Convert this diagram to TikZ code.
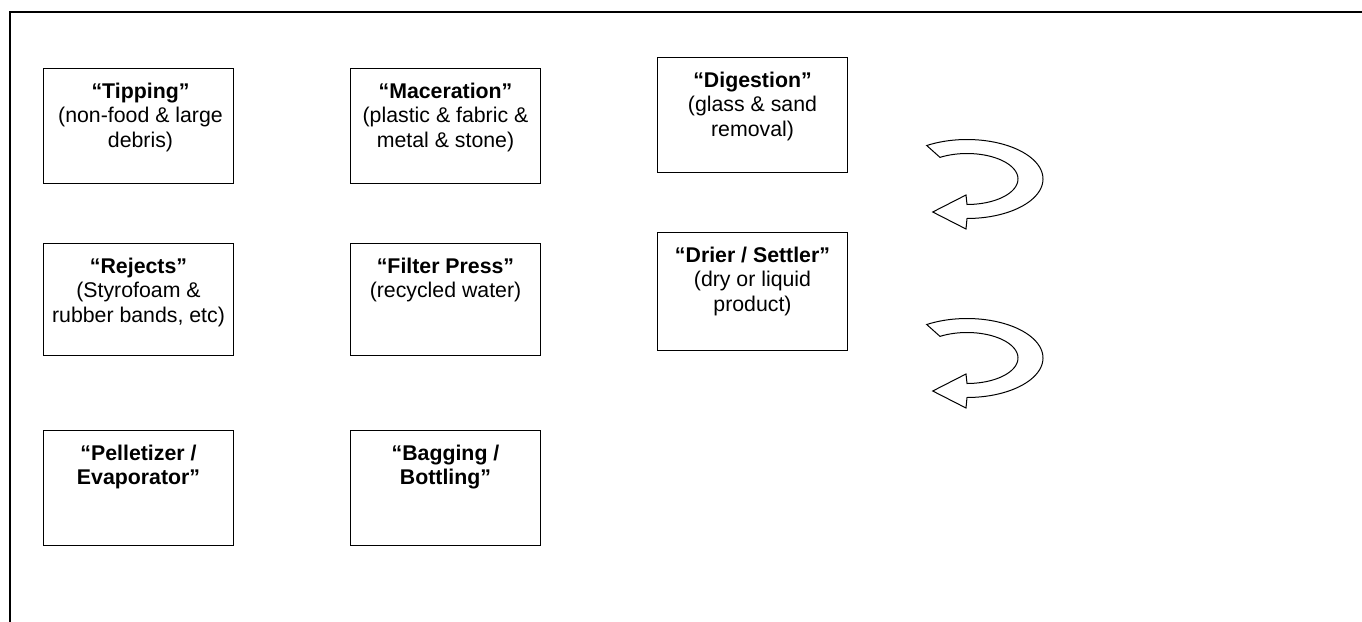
\documentclass[tikz,border=0pt]{standalone}
\usepackage{fontspec}
\setmainfont{Liberation Sans}
\begin{document}
\begin{tikzpicture}[x=1pt,y=-1pt,
  box/.style={draw, line width=1pt, minimum width=190pt, minimum height=115pt, anchor=north west, inner sep=0pt},
  lbl/.style={anchor=north, align=center, inner sep=0pt, font=\fontsize{21.3}{24.5}\selectfont},
  uturn/.style={draw, line width=1pt, fill=white, line join=miter}]
\useasboundingbox (0,0) rectangle (1362,621);
\fill[white] (0,0) rectangle (1362,621);
\draw[line width=2pt] (10,625) -- (10,12) -- (1366,12);

\node[box] (tip) at (43,68) {};
\node[lbl] (tipt) at ([yshift=-14.7pt,xshift=2pt]tip.north) {\textbf{“Tipping”}\\(non-food \& large\\debris)};
\node[box] (mac) at (350,68) {};
\node[lbl] (mact) at ([yshift=-14.7pt]mac.north) {\textbf{“Maceration”}\\(plastic \& fabric \&\\metal \& stone)};
\node[box] (dig) at (657,57) {};
\node[lbl] (digt) at ([yshift=-14.7pt]dig.north) {\textbf{“Digestion”}\\(glass \& sand\\removal)};

\node[box, minimum height=112pt] (rej) at (43,243) {};
\node[lbl] (rejt) at ([yshift=-14.7pt]rej.north) {\textbf{“Rejects”}\\(Styrofoam \&\\rubber bands, etc)};
\node[box, minimum height=112pt] (fil) at (350,243) {};
\node[lbl] (filt) at ([yshift=-14.7pt]fil.north) {\textbf{“Filter Press”}\\(recycled water)};
\node[box, minimum height=118pt] (dri) at (657,232) {};
\node[lbl] (drit) at ([yshift=-14.7pt]dri.north) {\textbf{“Drier / Settler”}\\(dry or liquid\\product)};

\node[box] (pel) at (43,430) {};
\node[lbl] (pelt) at ([yshift=-14.7pt]pel.north) {\textbf{“Pelletizer /}\\\textbf{Evaporator”}};
\node[box] (bag) at (350,430) {};
\node[lbl] (bagt) at ([yshift=-14.7pt]bag.north) {\textbf{“Bagging /}\\\textbf{Bottling”}};

\draw[uturn] plot[domain=238:450, samples=60] ({967+76*cos(\x)}, {179+39.5*sin(\x)})
  -- (966,229) -- (932.7,212) -- (966,195)
  -- plot[domain=0:212, samples=50] ({967+51*cos(450-\x)}, {179+25.5*sin(450-\x)}) -- cycle;
\draw[uturn] plot[domain=238:450, samples=60] ({967+76*cos(\x)}, {358+39.5*sin(\x)})
  -- (966,408) -- (932.7,391) -- (966,374)
  -- plot[domain=0:212, samples=50] ({967+51*cos(450-\x)}, {358+25.5*sin(450-\x)}) -- cycle;
\end{tikzpicture}
\end{document}
